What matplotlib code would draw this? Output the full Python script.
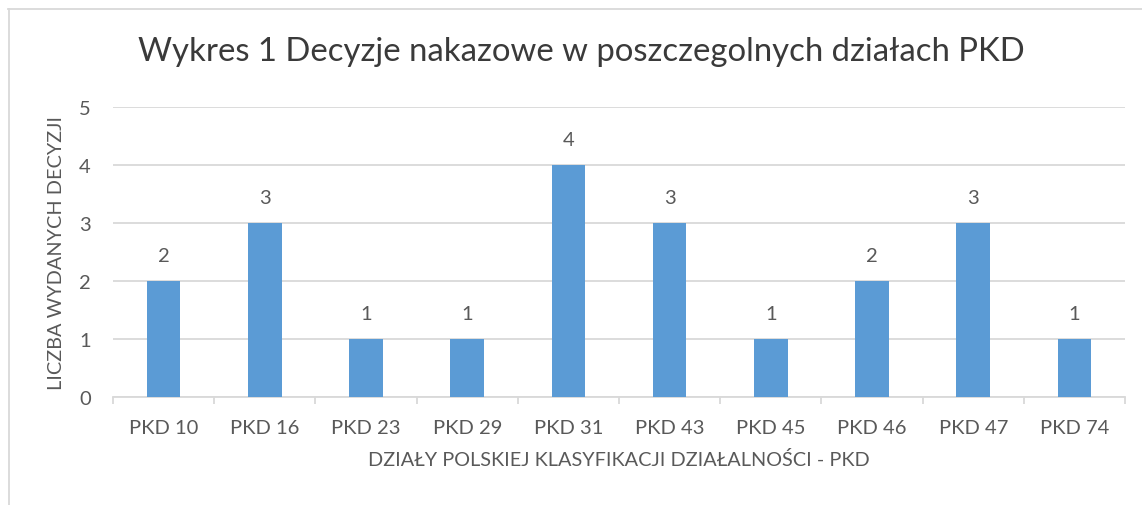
import matplotlib
matplotlib.use("Agg")
import matplotlib.pyplot as plt
from matplotlib.lines import Line2D
import numpy as np

categories = ["PKD 10", "PKD 16", "PKD 23", "PKD 29", "PKD 31",
              "PKD 43", "PKD 45", "PKD 46", "PKD 47", "PKD 74"]
decisions = [2, 3, 1, 1, 4, 3, 1, 2, 3, 1]
y_ticks = [0, 1, 2, 3, 4, 5]

TITLE = "Wykres 1 Decyzje nakazowe w poszczegolnych działach PKD"
X_LABEL = "DZIAŁY POLSKIEJ KLASYFIKACJI DZIAŁALNOŚCI - PKD"
Y_LABEL = "LICZBA WYDANYCH DECYZJI"

BAR_COLOR = "#5B9BD5"
TEXT_COLOR = "#595959"
GRID_COLOR = "#D9D9D9"

plt.rcParams["font.family"] = ["Lato", "DejaVu Sans"]

W, H = 1142, 506
fig = plt.figure(figsize=(W / 100, H / 100), dpi=100)

# plot area in pixels
left, right, top, bottom = 113, 1125, 108, 398
ax = fig.add_axes([left / W, 1 - bottom / H, (right - left) / W, (bottom - top) / H])

x = np.arange(len(categories))
bars = ax.bar(x, decisions, width=1 / 3, color=BAR_COLOR, zorder=3)
ax.bar_label(bars, labels=[str(v) for v in decisions], padding=12,
             fontsize=14.5, color=TEXT_COLOR)

ax.set_xlim(-0.5, len(categories) - 0.5)
ax.set_ylim(0, 5)
ax.set_yticks(y_ticks)
ax.yaxis.grid(True, color=GRID_COLOR, linewidth=1.3, zorder=0)
ax.set_axisbelow(True)

for s in ["top", "right", "left"]:
    ax.spines[s].set_visible(False)
ax.spines["bottom"].set_color(GRID_COLOR)
ax.spines["bottom"].set_linewidth(1.3)

ax.set_xticks(x)
ax.set_xticklabels(categories)
ax.set_xticks(np.arange(len(categories) + 1) - 0.5, minor=True)
ax.tick_params(axis="x", which="major", length=0, pad=16, labelsize=14.5,
               labelcolor=TEXT_COLOR)
ax.tick_params(axis="x", which="minor", length=5, width=1.3, color=GRID_COLOR)
ax.tick_params(axis="y", length=0, pad=16, labelsize=14.5, labelcolor=TEXT_COLOR)

ax.set_xlabel(X_LABEL, fontsize=14.3, color=TEXT_COLOR, labelpad=10)
ax.set_ylabel(Y_LABEL, fontsize=14.3, color=TEXT_COLOR, labelpad=10)

fig.text(0.5 * (138 + 1025) / W, 1 - 52 / H, TITLE, ha="center", va="center",
         fontsize=23.7, color="#3a3a3a")

# chart area border (cropped on the right and bottom)
fig.add_artist(Line2D([8 / W, 1], [1 - 9.5 / H, 1 - 9.5 / H], color=GRID_COLOR,
                      linewidth=1.3, transform=fig.transFigure))
fig.add_artist(Line2D([8.5 / W, 8.5 / W], [0, 1 - 9.5 / H], color=GRID_COLOR,
                      linewidth=1.3, transform=fig.transFigure))

fig.savefig("out.png", dpi=100, facecolor="white")
plt.close(fig)
